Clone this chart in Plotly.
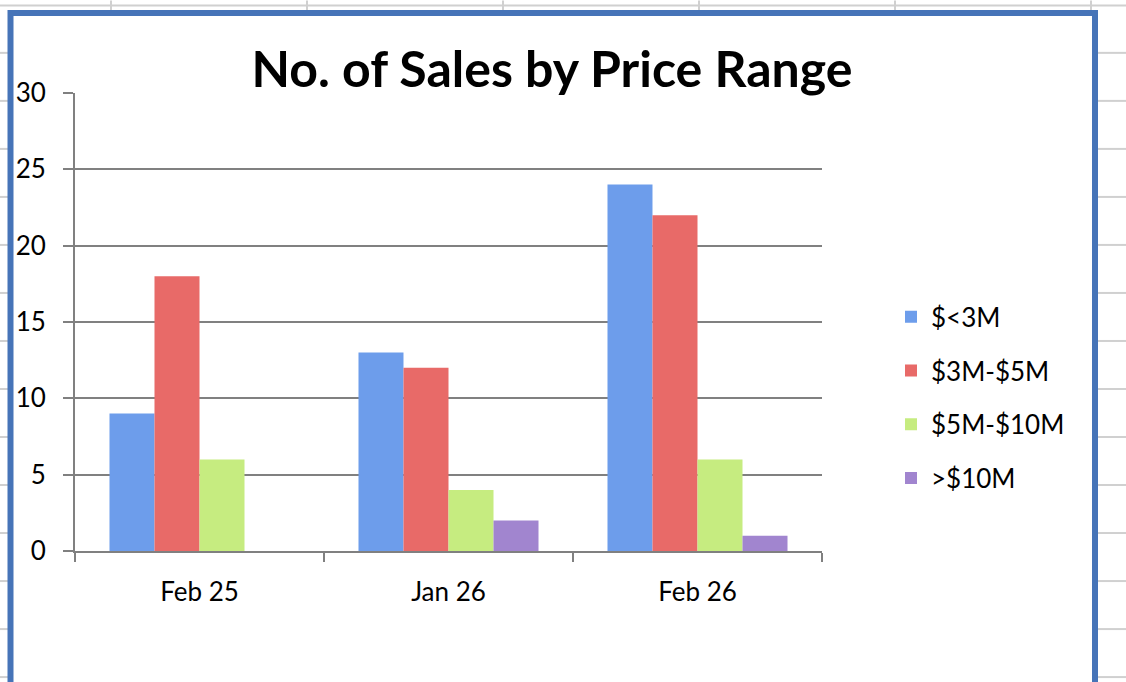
import plotly.graph_objects as go

categories = ["Feb 25", "Jan 26", "Feb 26"]
series_names = ["$<3M", "$3M-$5M", "$5M-$10M", ">$10M"]
under_3m = [9, 13, 24]
from_3m_to_5m = [18, 12, 22]
from_5m_to_10m = [6, 4, 6]
over_10m = [0, 2, 1]
y_ticks = [0, 5, 10, 15, 20, 25, 30]

series_values = [under_3m, from_3m_to_5m, from_5m_to_10m, over_10m]
colors = ["#6D9DEB", "#E86A68", "#C6EC80", "#A185CF"]

W, H = 1126, 682
L, R, T, B = 75, 822, 92.7, 551.5
PW, PH = R - L, B - T


def px_x(px):
    return (px - L) / PW


def px_y(py):
    return (B - py) / PH


fig = go.Figure()
for i, (name, vals) in enumerate(zip(series_names, series_values)):
    fig.add_trace(go.Bar(
        x=categories, y=vals, name=name,
        marker=dict(color=colors[i], line=dict(width=0)),
        legendgroup=f"g{i}",
    ))

shapes = []
grid_col = "#D0D0D0"
# spreadsheet background grid
shapes.append(dict(type="line", xref="paper", yref="paper",
                   x0=px_x(0), x1=px_x(W), y0=px_y(5), y1=px_y(5),
                   line=dict(color=grid_col, width=2), layer="below"))
for vx in [111, 307, 503, 699, 895, 1091]:
    shapes.append(dict(type="line", xref="paper", yref="paper",
                       x0=px_x(vx), x1=px_x(vx), y0=px_y(0), y1=px_y(12),
                       line=dict(color=grid_col, width=2), layer="below"))
yy = 52.5
while yy < H:
    shapes.append(dict(type="line", xref="paper", yref="paper",
                       x0=px_x(0), x1=px_x(8), y0=px_y(yy), y1=px_y(yy),
                       line=dict(color=grid_col, width=2), layer="below"))
    shapes.append(dict(type="line", xref="paper", yref="paper",
                       x0=px_x(1097), x1=px_x(W), y0=px_y(yy), y1=px_y(yy),
                       line=dict(color=grid_col, width=2), layer="below"))
    yy += 48.1
# chart frame
shapes.append(dict(type="rect", xref="paper", yref="paper",
                   x0=px_x(10.5), x1=px_x(1095), y0=px_y(12.5), y1=px_y(H + 20),
                   line=dict(color="#4674B8", width=6), fillcolor="white",
                   layer="below"))

axis_col = "#808080"
fig.update_layout(
    width=W, height=H,
    margin=dict(l=L, r=W - R, t=T, b=H - B, pad=0),
    paper_bgcolor="white", plot_bgcolor="rgba(0,0,0,0)",
    font=dict(family="Lato", size=26, color="black"),
    barmode="group", bargap=0.277, bargroupgap=0,
    title=dict(text="<b>No. of Sales by Price Range</b>",
               font=dict(family="Lato", size=50, color="black"),
               x=px_x(552), xref="paper", xanchor="center",
               y=1 - 69 / H, yref="container", yanchor="middle"),
    legend=dict(x=px_x(891), xanchor="left", y=px_y(398), yanchor="middle",
                font=dict(family="Lato", size=26, color="black"),
                tracegroupgap=17, bgcolor="rgba(0,0,0,0)",
                itemclick=False),
    showlegend=True,
    shapes=shapes,
    xaxis=dict(type="category", showline=True, linecolor=axis_col, linewidth=2,
               ticks="outside", tickson="boundaries", ticklen=9, tickwidth=2,
               tickcolor=axis_col, showgrid=False, ticklabelstandoff=17,
               tickfont=dict(family="Lato", size=26, color="black")),
    yaxis=dict(range=[0, 30], tickvals=y_ticks, showline=True, linecolor=axis_col,
               linewidth=2, ticks="outside", ticklen=10, tickwidth=2,
               tickcolor=axis_col, showgrid=True, gridcolor=axis_col, gridwidth=2,
               zeroline=False, ticklabelstandoff=12,
               tickfont=dict(family="Lato", size=26, color="black")),
)

fig.write_html("out.html",
               config={"displayModeBar": False},
               post_script="document.body.style.margin='0';document.body.style.overflow='hidden';")
